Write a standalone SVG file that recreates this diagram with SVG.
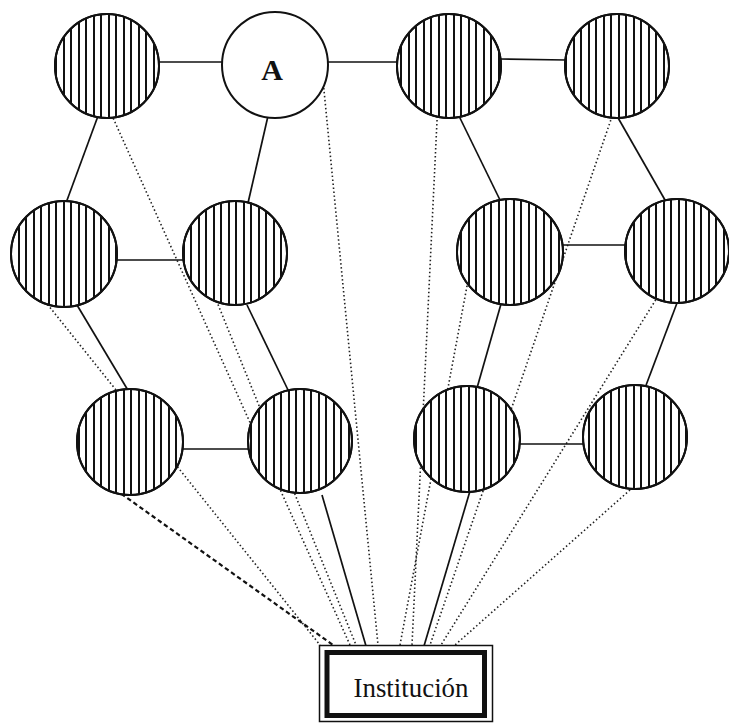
<svg xmlns="http://www.w3.org/2000/svg" width="729" height="724" viewBox="0 0 729 724">
<defs>
<pattern id="hatch" patternUnits="userSpaceOnUse" x="0" y="0" width="15" height="10">
<rect x="3" y="0" width="2" height="10" fill="#111"/>
<rect x="10" y="0" width="2" height="10" fill="#111"/>
</pattern>
</defs>
<style>
.dot{fill:none;stroke:#222;stroke-width:1.6;stroke-dasharray:1.5 2.5}
.dash{fill:none;stroke:#111;stroke-width:2.2;stroke-dasharray:4.5 3}
.sol{fill:none;stroke:#111;stroke-width:1.7}
.node circle{stroke:#111;stroke-width:2}
.hatched circle{fill:url(#hatch)}
</style>
<rect width="729" height="724" fill="#fff"/>
<g id="connectors">
<line class="dot" x1="105" y1="100" x2="350" y2="645"/>
<line class="dot" x1="323" y1="80" x2="378" y2="645"/>
<line class="dot" x1="438" y1="100" x2="412" y2="645"/>
<line class="dot" x1="616" y1="105" x2="430" y2="645"/>
<line class="dot" x1="40" y1="295" x2="320" y2="645"/>
<line class="dot" x1="200" y1="260" x2="356" y2="645"/>
<line class="dot" x1="470" y1="270" x2="400" y2="645"/>
<line class="dot" x1="660" y1="293" x2="441" y2="645"/>
<line class="dot" x1="639" y1="482" x2="455" y2="645"/>
<line class="dash" x1="109" y1="485" x2="333" y2="645"/>
<line class="sol" x1="158" y1="62" x2="224" y2="62"/>
<line class="sol" x1="326" y1="62" x2="398" y2="62"/>
<line class="sol" x1="500" y1="59" x2="566" y2="60"/>
<line class="sol" x1="98" y1="116" x2="66" y2="203"/>
<line class="sol" x1="268" y1="116" x2="248" y2="203"/>
<line class="sol" x1="459" y1="116" x2="500" y2="200"/>
<line class="sol" x1="617" y1="116" x2="665" y2="200"/>
<line class="sol" x1="116" y1="260" x2="185" y2="260"/>
<line class="sol" x1="561" y1="245" x2="628" y2="245"/>
<line class="sol" x1="77" y1="305" x2="129" y2="392"/>
<line class="sol" x1="247" y1="305" x2="289" y2="392"/>
<line class="sol" x1="501" y1="304" x2="477" y2="388"/>
<line class="sol" x1="677" y1="303" x2="645" y2="388"/>
<line class="sol" x1="181" y1="449" x2="249" y2="449"/>
<line class="sol" x1="518" y1="444" x2="584" y2="444"/>
<line class="sol" x1="322" y1="495" x2="366" y2="646"/>
<line class="sol" x1="470" y1="491" x2="424" y2="646"/>
</g>
<g id="n1" class="node hatched"><circle cx="107" cy="66" r="52" style="fill:#fff"/><circle cx="107" cy="66" r="52"/></g>
<g id="nA" class="node"><circle cx="275" cy="65" r="53" fill="#fff"/><text x="272" y="80" text-anchor="middle" font-family="'Liberation Serif', serif" font-weight="bold" font-size="30" fill="#111">A</text></g>
<g id="n3" class="node hatched"><circle cx="449" cy="66" r="52" style="fill:#fff"/><circle cx="449" cy="66" r="52"/></g>
<g id="n4" class="node hatched"><circle cx="617" cy="66" r="52" style="fill:#fff"/><circle cx="617" cy="66" r="52"/></g>
<g id="n5" class="node hatched"><circle cx="64" cy="254" r="53" style="fill:#fff"/><circle cx="64" cy="254" r="53"/></g>
<g id="n6" class="node hatched"><circle cx="235" cy="253" r="52" style="fill:#fff"/><circle cx="235" cy="253" r="52"/></g>
<g id="n7" class="node hatched"><circle cx="510" cy="252" r="53" style="fill:#fff"/><circle cx="510" cy="252" r="53"/></g>
<g id="n8" class="node hatched"><circle cx="677" cy="251" r="52" style="fill:#fff"/><circle cx="677" cy="251" r="52"/></g>
<g id="n9" class="node hatched"><circle cx="130" cy="442" r="53" style="fill:#fff"/><circle cx="130" cy="442" r="53"/></g>
<g id="n10" class="node hatched"><circle cx="300" cy="441" r="52" style="fill:#fff"/><circle cx="300" cy="441" r="52"/></g>
<g id="n11" class="node hatched"><circle cx="467" cy="439" r="53" style="fill:#fff"/><circle cx="467" cy="439" r="53"/></g>
<g id="n12" class="node hatched"><circle cx="635" cy="437" r="52" style="fill:#fff"/><circle cx="635" cy="437" r="52"/></g>
<g id="box">
<rect x="319.5" y="645.5" width="173" height="76" fill="#fff" stroke="#111" stroke-width="1.5"/>
<rect x="327" y="652.5" width="157.5" height="63" fill="none" stroke="#111" stroke-width="5"/>
<text x="411" y="697" text-anchor="middle" font-family="'Liberation Serif', serif" font-size="27" textLength="115" lengthAdjust="spacingAndGlyphs" fill="#111">Institución</text>
</g>
</svg>
